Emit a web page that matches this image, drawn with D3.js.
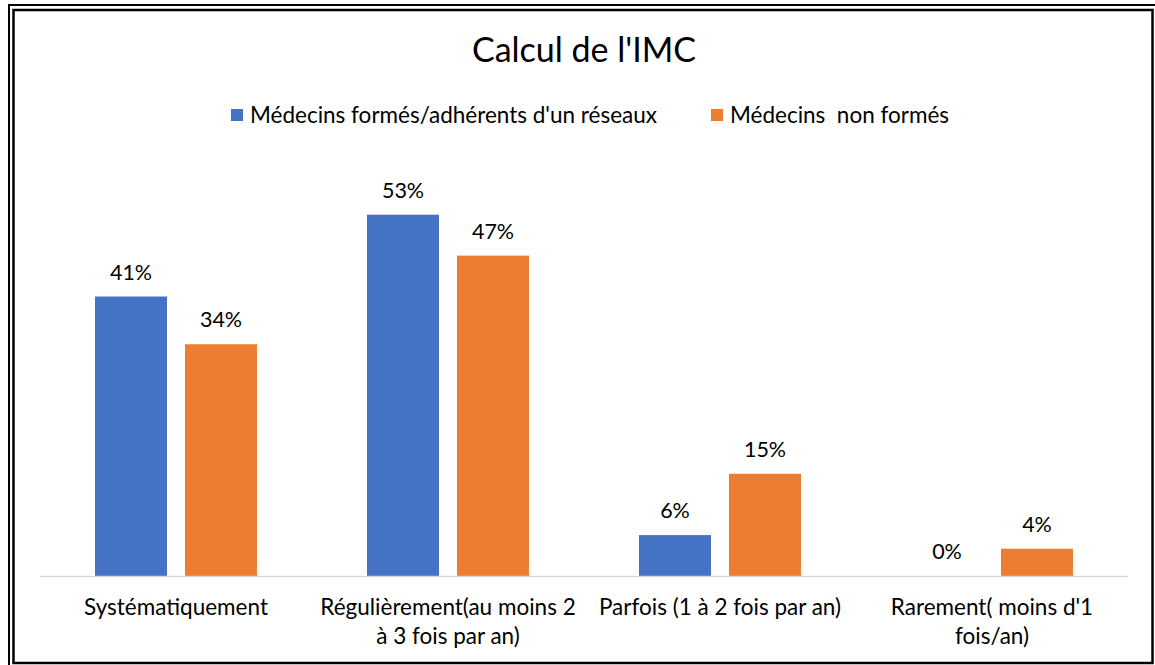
<!DOCTYPE html>
<html>
<head>
<meta charset="utf-8">
<script src="https://cdn.jsdelivr.net/npm/d3@7"></script>
<style>
  html, body { margin: 0; padding: 0; background: #fff; }
  svg { display: block; font-family: Lato, "Liberation Sans", sans-serif; }
</style>
</head>
<body>
<svg id="chart" width="1155" height="665"></svg>
<script>
// Chart data
const title = "Calcul de l'IMC";
const categories = [
  "Systématiquement",
  "Régulièrement(au moins 2 à 3 fois par an)",
  "Parfois (1 à 2 fois par an)",
  "Rarement( moins d'1 fois/an)"
];
const seriesNames = ["Médecins formés/adhérents d'un réseaux", "Médecins  non formés"];
const formesValues = [41, 53, 6, 0];
const nonFormesValues = [34, 47, 15, 4];
const seriesColors = ["#4472C4", "#ED7D31"];

const svg = d3.select("#chart");

// Frame: outer line on left/top, full inner box
svg.append("path")
  .attr("d", "M9,665 V5 H1155")
  .attr("fill", "none").attr("stroke", "#000").attr("stroke-width", 2);
svg.append("rect")
  .attr("x", 13.5).attr("y", 10).attr("width", 1139).attr("height", 653)
  .attr("fill", "none").attr("stroke", "#000").attr("stroke-width", 2.5);

// Scales
const plot = { left: 40, right: 1128, bottom: 576 };
const x0 = d3.scaleBand().domain(categories).range([plot.left, plot.right]).padding(0);
const x1 = d3.scaleBand().domain(seriesNames)
  .range([55, x0.bandwidth() - 55]).paddingInner(0.2).paddingOuter(0);
const y = d3.scaleLinear().domain([0, 60]).range([plot.bottom, 167]);

const rows = categories.map((c, i) => ({
  cat: c,
  vals: [formesValues[i], nonFormesValues[i]]
}));

// Title
svg.append("text")
  .attr("x", 584).attr("y", 62)
  .attr("text-anchor", "middle")
  .attr("font-size", 34).attr("fill", "#000")
  .text(title);

// Legend
const legendItems = [
  { name: seriesNames[0], color: seriesColors[0], x: 231 },
  { name: seriesNames[1], color: seriesColors[1], x: 711 }
];
const lg = svg.append("g");
legendItems.forEach(d => {
  lg.append("rect").attr("x", d.x).attr("y", 109).attr("width", 12).attr("height", 12)
    .attr("fill", d.color);
  lg.append("text").attr("x", d.x + 19).attr("y", 123)
    .attr("font-size", 22.5).attr("fill", "#000")
    .attr("xml:space", "preserve")
    .style("white-space", "pre")
    .text(d.name);
});

// Bars
const groups = svg.append("g").selectAll("g")
  .data(rows).join("g")
  .attr("transform", d => `translate(${x0(d.cat)},0)`);

groups.selectAll("rect")
  .data(d => d.vals.map((v, j) => ({ v, s: seriesNames[j], j })))
  .join("rect")
  .attr("x", d => x1(d.s))
  .attr("width", x1.bandwidth())
  .attr("y", d => y(d.v))
  .attr("height", d => y(0) - y(d.v))
  .attr("fill", d => seriesColors[d.j]);

// Value labels
groups.selectAll("text.val")
  .data(d => d.vals.map((v, j) => ({ v, s: seriesNames[j], j })))
  .join("text")
  .attr("class", "val")
  .attr("x", d => x1(d.s) + x1.bandwidth() / 2)
  .attr("y", d => y(d.v) - 17)
  .attr("text-anchor", "middle")
  .attr("font-size", 21.5).attr("fill", "#000")
  .text(d => d.v + "%");

// Baseline
svg.append("line")
  .attr("x1", plot.left).attr("x2", plot.right)
  .attr("y1", y(0) + 0.5).attr("y2", y(0) + 0.5)
  .attr("stroke", "#d9d9d9").attr("stroke-width", 1.5);

// Category axis labels, wrapped to the band width
const xAxis = svg.append("g")
  .attr("transform", `translate(0,${plot.bottom})`)
  .call(d3.axisBottom(x0).tickSize(0).tickPadding(0));
xAxis.select(".domain").remove();
xAxis.selectAll(".tick text")
  .attr("font-size", 22.5).attr("font-family", "Lato, sans-serif").attr("fill", "#000")
  .attr("y", 0).attr("dy", null)
  .each(function (d) {
    const t = d3.select(this);
    const words = d.split(/\s+/);
    const maxW = x0.bandwidth() - 10;
    t.text(null);
    let line = [];
    let lineNo = 0;
    let ts = t.append("tspan").attr("x", 0).attr("y", 39);
    words.forEach(w => {
      line.push(w);
      ts.text(line.join(" "));
      if (ts.node().getComputedTextLength() > maxW && line.length > 1) {
        line.pop();
        ts.text(line.join(" "));
        line = [w];
        lineNo++;
        ts = t.append("tspan").attr("x", 0).attr("y", 39 + lineNo * 29).text(w);
      }
    });
  });
</script>
</body>
</html>
